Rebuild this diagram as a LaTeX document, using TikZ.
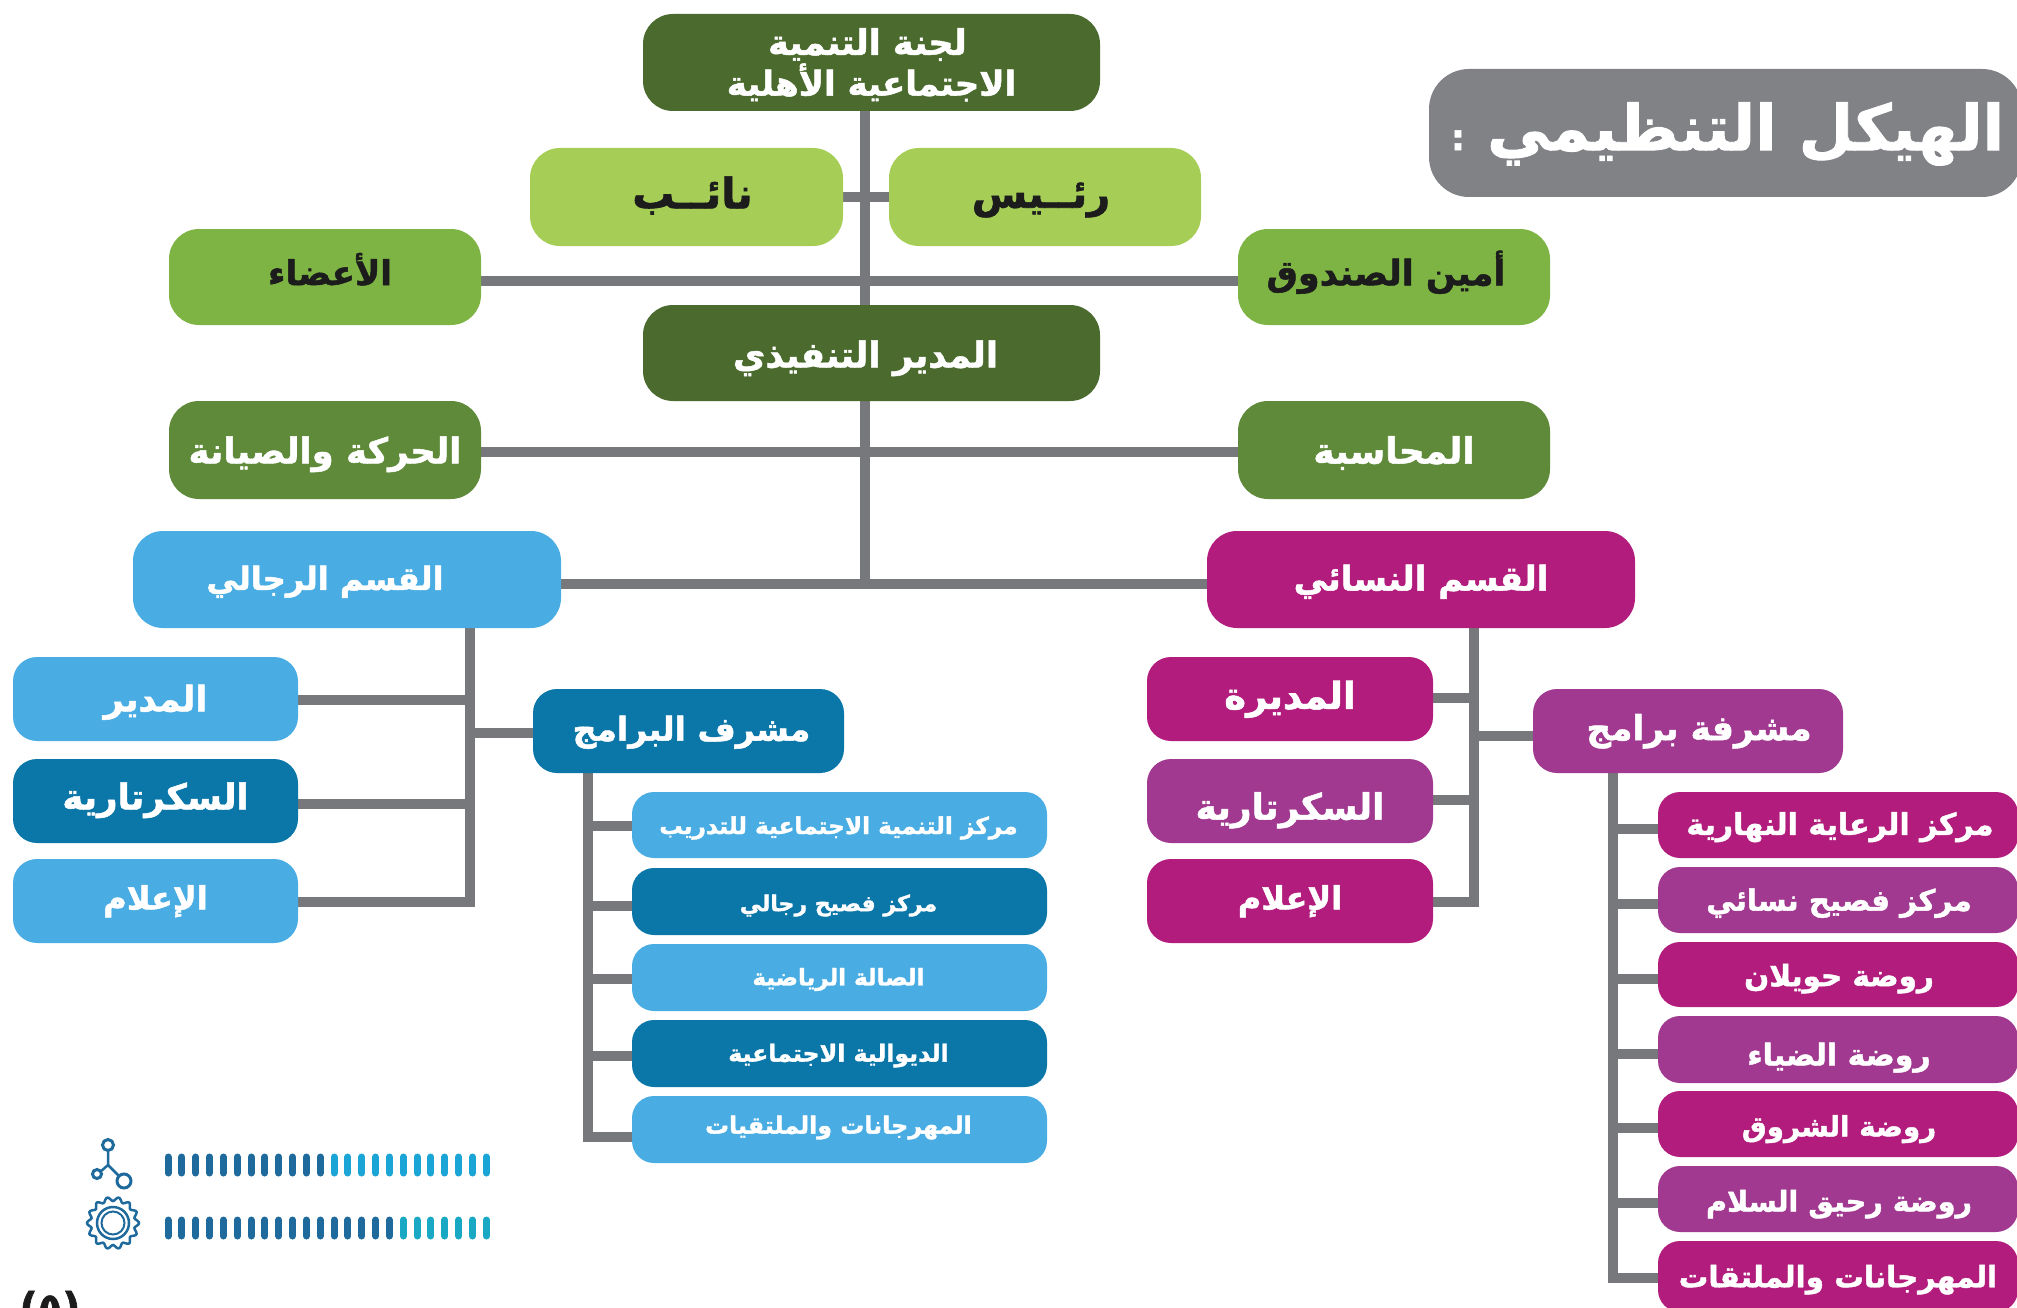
\documentclass[tikz,border=0pt]{standalone}
\usepackage{fontspec}
\usetikzlibrary{backgrounds}
\newfontfamily\arfont[Script=Arabic,BoldFeatures={FakeBold=1.5}]{DejaVu Sans}
\TeXXeTstate=1
\definecolor{linegray}{HTML}{77787B}
\definecolor{titlegray}{HTML}{808285}
\definecolor{dgreen}{HTML}{4B6B2E}
\definecolor{lgreen}{HTML}{A6CE57}
\definecolor{mgreen}{HTML}{7EB444}
\definecolor{sgreen}{HTML}{5F8A3A}
\definecolor{lblue}{HTML}{49ACE2}
\definecolor{dblue}{HTML}{0B76A8}
\definecolor{magen}{HTML}{B21D7D}
\definecolor{purp}{HTML}{A0398F}
\definecolor{inkdark}{HTML}{1C1C1C}
\definecolor{iconblue}{HTML}{1F6A9C}
\definecolor{barlight}{HTML}{1AA5D6}
\definecolor{barteal}{HTML}{18A8C4}
\tikzset{
  orgbox/.style={inner sep=0pt,outer sep=0pt,align=center},
  link/.style={draw=linegray,line width=9.5pt,line cap=butt},
}
% name, x0, x1, y0, y1, radius, fill, text
\newcommand{\orgnode}[8]{%
  \node[orgbox,rounded corners=#6pt,fill=#7,minimum width={#3-#2},minimum height={#5-#4}] (#1) at ({(#2+#3)/2},{(#4+#5)/2}) {#8};}
% colour, size, dx, dy, text
\newcommand{\artxt}[5]{\makebox[0pt]{\kern\dimexpr 2\dimexpr #3pt\relax\relax\smash{\raisebox{\dimexpr -#4pt-0.28\dimexpr #2pt\relax-2.5pt\relax}{\textcolor{#1}{\arfont\bfseries\fontsize{#2}{#2}\selectfont #5}}}}}
\begin{document}
\begin{tikzpicture}[x=1pt,y=-1pt]
\useasboundingbox (0,0) rectangle (2017,1308);
% junction coordinates
\coordinate (trunkA) at (865,197);
\coordinate (trunkB) at (865,281);
\coordinate (trunkC) at (865,452);
\coordinate (trunkD) at (865,584);
\coordinate (menbus) at (470,700);
\coordinate (menbusB) at (470,804);
\coordinate (menbusC) at (470,902);
\coordinate (menbusS) at (470,733);
\coordinate (wombus) at (1474,698);
\coordinate (wombusB) at (1474,800);
\coordinate (wombusC) at (1474,902);
\coordinate (wombusS) at (1474,736);
\coordinate (pbus) at (588,826);
\coordinate (pend) at (588,1142);
\coordinate (wbus) at (1613,829);
\coordinate (wend) at (1613,1283);
\orgnode{top}{643}{1100}{14}{111}{30}{dgreen}{\artxt{white}{35}{-4}{-20}{\beginR لجنة التنمية\endR}\artxt{white}{34}{0}{21}{\beginR الاجتماعية الأهلية\endR}}
\orgnode{naib}{530}{843}{148}{246}{30}{lgreen}{\artxt{inkdark}{42}{6}{-3}{\beginR نائــب\endR}}
\orgnode{rais}{889}{1201}{148}{246}{30}{lgreen}{\artxt{inkdark}{40}{-4}{-3}{\beginR رئــيس\endR}}
\orgnode{members}{169}{481}{229}{325}{30}{mgreen}{\artxt{inkdark}{34}{5}{-4}{\beginR الأعضاء\endR}}
\orgnode{treas}{1238}{1550}{229}{325}{30}{mgreen}{\artxt{inkdark}{35}{-8}{-4}{\beginR أمين الصندوق\endR}}
\orgnode{exec}{643}{1100}{305}{401}{30}{dgreen}{\artxt{white}{35.5}{-6}{2}{\beginR المدير التنفيذي\endR}}
\orgnode{maint}{169}{481}{401}{499}{30}{sgreen}{\artxt{white}{35.5}{0}{1}{\beginR الحركة والصيانة\endR}}
\orgnode{acct}{1238}{1550}{401}{499}{30}{sgreen}{\artxt{white}{36}{0}{1}{\beginR المحاسبة\endR}}
\orgnode{men}{133}{561}{531}{628}{30}{lblue}{\artxt{white}{32}{-22}{-1}{\beginR القسم الرجالي\endR}}
\orgnode{women}{1207}{1635}{531}{628}{30}{magen}{\artxt{white}{34}{0}{-1}{\beginR القسم النسائي\endR}}
% men
\orgnode{mdir}{13}{298}{657}{741}{24}{lblue}{\artxt{white}{35}{0}{0}{\beginR المدير\endR}}
\orgnode{msec}{13}{298}{759}{843}{24}{dblue}{\artxt{white}{35.5}{0}{-4}{\beginR السكرتارية\endR}}
\orgnode{mmed}{13}{298}{859}{943}{24}{lblue}{\artxt{white}{32}{0}{-3}{\beginR الإعلام\endR}}
\orgnode{msup}{533}{844}{689}{773}{24}{dblue}{\artxt{white}{33}{3}{-2}{\beginR مشرف البرامج\endR}}
\orgnode{ma}{632}{1047}{792}{858}{22}{lblue}{\artxt{white}{23.2}{-1}{0}{\beginR مركز التنمية الاجتماعية للتدريب\endR}}
\orgnode{mb}{632}{1047}{868}{935}{22}{dblue}{\artxt{white}{22}{-1}{1}{\beginR مركز فصيح رجالي\endR}}
\orgnode{mc}{632}{1047}{944}{1011}{22}{lblue}{\artxt{white}{23}{-1}{-1}{\beginR الصالة الرياضية\endR}}
\orgnode{md}{632}{1047}{1020}{1087}{22}{dblue}{\artxt{white}{23.6}{-1}{-1}{\beginR الديوالية الاجتماعية\endR}}
\orgnode{me}{632}{1047}{1096}{1163}{22}{lblue}{\artxt{white}{23.8}{-1}{-5}{\beginR المهرجانات والملتقيات\endR}}
% women
\orgnode{wdir}{1147}{1433}{657}{741}{24}{magen}{\artxt{white}{37}{0}{-3}{\beginR المديرة\endR}}
\orgnode{wsec}{1147}{1433}{759}{843}{24}{purp}{\artxt{white}{36}{0}{6}{\beginR السكرتارية\endR}}
\orgnode{wmed}{1147}{1433}{859}{943}{24}{magen}{\artxt{white}{32}{0}{-3}{\beginR الإعلام\endR}}
\orgnode{wsup}{1533}{1843}{689}{773}{24}{purp}{\artxt{white}{34.4}{11}{-3}{\beginR مشرفة برامج\endR}}
\orgnode{wa}{1658}{2018}{792}{858}{22}{magen}{\artxt{white}{30}{2}{-1}{\beginR مركز الرعاية النهارية\endR}}
\orgnode{wb}{1658}{2018}{867}{933}{22}{purp}{\artxt{white}{29.3}{1}{0}{\beginR مركز فصيح نسائي\endR}}
\orgnode{wc}{1658}{2018}{942}{1007}{22}{magen}{\artxt{white}{29.4}{1}{1}{\beginR روضة حويلان\endR}}
\orgnode{wd}{1658}{2018}{1016}{1083}{22}{purp}{\artxt{white}{30}{1}{5}{\beginR روضة الضياء\endR}}
\orgnode{we}{1658}{2018}{1091}{1157}{22}{magen}{\artxt{white}{27.8}{1}{2}{\beginR روضة الشروق\endR}}
\orgnode{wf}{1658}{2018}{1166}{1232}{22}{purp}{\artxt{white}{28.6}{1}{2}{\beginR روضة رحيق السلام\endR}}
\orgnode{wg}{1658}{2018}{1241}{1312}{22}{magen}{\artxt{white}{29.5}{0}{0}{\beginR المهرجانات والملتقات\endR}}
% title
\orgnode{title}{1429}{2022}{69}{197}{40}{titlegray}{\artxt{white}{63}{2}{-3}{\beginR الهيكل التنظيمي {\fontsize{36}{36}\selectfont:}\endR}}
% page number
\node[orgbox] (pageno) at (50,1310) {\artxt{inkdark}{40}{0}{-2.5}{\beginR (٥)\endR}};
% connectors
\begin{scope}[on background layer]
\draw[link] (top.south -| trunkA) -- (trunkD);
\draw[link] (naib.east |- trunkA) -- (rais.west |- trunkA);
\draw[link] (members.east |- trunkB) -- (treas.west |- trunkB);
\draw[link] (maint.east |- trunkC) -- (acct.west |- trunkC);
\draw[link] (men.east |- trunkD) -- (women.west |- trunkD);
\draw[link] (men.south -| menbus) -- ([yshift=-4.75pt]menbusC);
\draw[link] (mdir.east |- menbus) -- (menbus);
\draw[link] (msec.east |- menbusB) -- (menbusB);
\draw[link] (mmed.east |- menbusC) -- (menbusC);
\draw[link] (menbusS) -- (msup.west |- menbusS);
\draw[link] (women.south -| wombus) -- ([yshift=-4.75pt]wombusC);
\draw[link] (wdir.east |- wombus) -- (wombus);
\draw[link] (wsec.east |- wombusB) -- (wombusB);
\draw[link] (wmed.east |- wombusC) -- (wombusC);
\draw[link] (wombusS) -- (wsup.west |- wombusS);
\draw[link,line width=10pt] (msup.south -| pbus) -- (pend);
\foreach \n/\yy in {ma/826,mb/906,mc/979,md/1056,me/1137}{
  \draw[link] (583,\yy) -- (\n.west |- {(0,\yy)});
}
\draw[link,line width=10pt] (wsup.south -| wbus) -- (wend);
\foreach \n/\yy in {wa/829,wb/904,wc/979,wd/1054,we/1128,wf/1203,wg/1278}{
  \draw[link] (1608,\yy) -- (\n.west |- {(0,\yy)});
}
\end{scope}
% network icon
\coordinate (netj) at (108,1165);
\draw[iconblue,line width=2.5pt] (108,1150) -- (netj) -- (100,1172);
\draw[iconblue,line width=2.5pt] (netj) -- (119,1176);
\draw[iconblue,line width=3pt,fill=white] (108,1145) circle (5.5);
\draw[iconblue,line width=3pt,fill=white] (97,1174) circle (4.5);
\draw[iconblue,line width=3pt,fill=white] (124,1181) circle (7);
% gear icon
\draw[iconblue,line width=2.5pt,smooth,samples=145,domain=0:360] plot ({113+cos(\x)*(24+2*cos(14*\x))},{1223+sin(\x)*(24+2*cos(14*\x))}) -- cycle;
\draw[iconblue,line width=2.5pt] (113,1223) circle (16);
\draw[iconblue,line width=2pt] (113,1223) circle (11.5);
% bars
\foreach \i in {0,...,23}{
  \pgfmathsetmacro{\bx}{168+13.84*\i}
  \pgfmathparse{\i<12?"iconblue":"barlight"}\edef\cc{\pgfmathresult}
  \draw[\cc,line width=7pt,line cap=round] (\bx,1157) -- (\bx,1173);
  \pgfmathparse{\i<17?"iconblue":"barteal"}\edef\cd{\pgfmathresult}
  \draw[\cd,line width=7pt,line cap=round] (\bx,1220) -- (\bx,1236);
}
\end{tikzpicture}
\end{document}
